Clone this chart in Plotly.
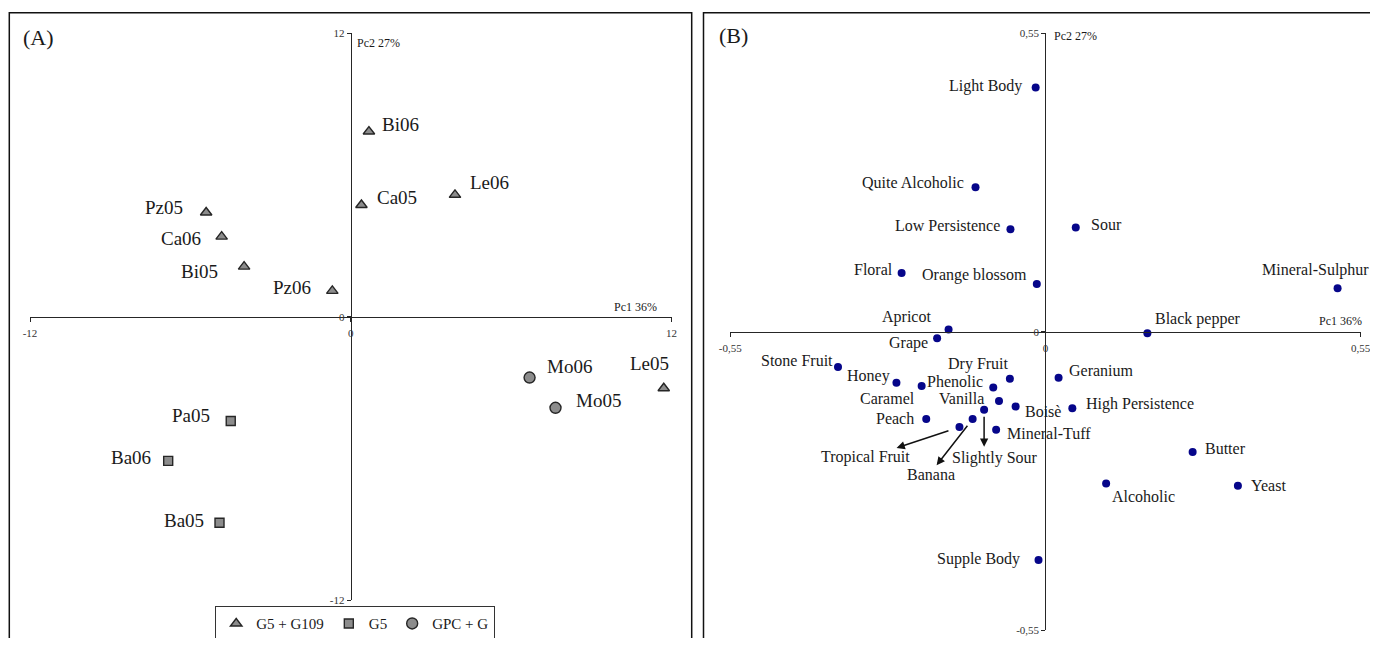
import plotly.graph_objects as go

# ---------------- Data: panel (A) scores ----------------
g1_names = ['Bi06', 'Ca05', 'Le06', 'Pz05', 'Ca06', 'Bi05', 'Pz06', 'Le05']
g1_pc1 = [0.68, 0.40, 3.90, -5.41, -4.83, -3.99, -0.69, 11.71]
g1_pc2 = [7.84, 4.73, 5.16, 4.41, 3.39, 2.12, 1.09, -3.03]

g2_names = ['Pa05', 'Ba06', 'Ba05']
g2_pc1 = [-4.49, -6.83, -4.91]
g2_pc2 = [-4.42, -6.11, -8.73]

g3_names = ['Mo06', 'Mo05']
g3_pc1 = [6.69, 7.66]
g3_pc2 = [-2.58, -3.86]

group_labels = ['G5 + G109', 'G5', 'GPC + G']

# ---------------- Data: panel (B) loadings ----------------
B_names = ['Light Body', 'Quite Alcoholic', 'Low Persistence', 'Sour', 'Floral',
           'Orange blossom', 'Mineral-Sulphur', 'Apricot', 'Black pepper', 'Grape',
           'Stone Fruit', 'Honey', 'Caramel', 'Phenolic', 'Dry Fruit', 'Vanilla',
           'Boisè', 'Geranium', 'High Persistence', 'Peach', 'Slightly Sour',
           'Banana', 'Tropical Fruit', 'Mineral-Tuff', 'Butter', 'Alcoholic',
           'Yeast', 'Supple Body']
B_pc1 = [-0.017, -0.122, -0.061, 0.053, -0.251, -0.015, 0.510, -0.169, 0.178, -0.189,
         -0.362, -0.260, -0.216, -0.091, -0.062, -0.081, -0.052, 0.023, 0.047, -0.208,
         -0.107, -0.127, -0.150, -0.086, 0.257, 0.106, 0.336, -0.012]
B_pc2 = [0.450, 0.266, 0.189, 0.192, 0.108, 0.088, 0.080, 0.004, -0.003, -0.012,
         -0.065, -0.094, -0.100, -0.103, -0.087, -0.128, -0.138, -0.085, -0.141, -0.161,
         -0.144, -0.161, -0.176, -0.181, -0.222, -0.280, -0.284, -0.421]

A_ticks = [-12, 0, 12]
A_ticktext = ['-12', '0', '12']
B_ticks = [-0.55, 0, 0.55]
B_ticktext = ['-0,55', '0', '0,55']

# ---------------- Styles (label placement in pixels) ----------------
A_label_style = {
    'Bi06': ('left', 11, 6.7), 'Ca05': ('left', 14, 7), 'Le06': ('left', 13.5, 12),
    'Pz05': ('right', -21, 5), 'Ca06': ('right', -19, -1.6), 'Bi05': ('right', -24, -5),
    'Pz06': ('right', -19, 3.7), 'Le05': ('right', 7.6, 25), 'Mo06': ('left', 15.6, 11),
    'Mo05': ('left', 18, 7), 'Pa05': ('right', -18.8, 5.3), 'Ba06': ('right', -15, 3.3),
    'Ba05': ('right', -13.4, 2),
}
B_label_style = {
    'Light Body': ('right', -11.6, 1.7), 'Quite Alcoholic': ('right', -9.9, 5),
    'Low Persistence': ('right', -8.6, 3.3), 'Sour': ('left', 13, 2.7),
    'Floral': ('right', -6.5, 4), 'Orange blossom': ('right', -7.4, 9),
    'Mineral-Sulphur': ('right', 33, 18.3), 'Apricot': ('right', -16, 12.6),
    'Black pepper': ('left', 5.6, 14), 'Grape': ('right', -7.4, -5),
    'Stone Fruit': ('right', -3, 6.7), 'Honey': ('right', -4.3, 6.7),
    'Caramel': ('right', -4.8, -12.6), 'Phenolic': ('right', -8.3, 6.3),
    'Dry Fruit': ('right', 1.3, 14.7), 'Vanilla': ('right', -12.6, 2.7),
    'Boisè': ('left', 7.4, -5), 'Geranium': ('left', 8.7, 7.3),
    'High Persistence': ('left', 11.7, 3.7), 'Peach': ('right', -10.3, 0.7),
    'Slightly Sour': ('center', 10.7, -48.6), 'Banana': ('center', -41.8, -55.3),
    'Tropical Fruit': ('center', -94.2, -30.3), 'Mineral-Tuff': ('left', 8.6, -3.6),
    'Butter': ('left', 10.8, 3.3), 'Alcoholic': ('left', 4.3, -13),
    'Yeast': ('left', 11.6, 0.7), 'Supple Body': ('right', -16.4, 0.7),
}
# arrows from a point to its label: (ax, ay, standoff) in pixels
B_arrows = {
    'Slightly Sour': (0, 38.6, 7),
    'Banana': (-37.2, 47.7, 8.5),
    'Tropical Fruit': (-64.4, 21.3, 11.6),
}

# The page body adds an 8px margin; the figure is sized so the page fits the window.
PAGE_W, PAGE_H, BODY_M = 1378, 646, 8
W, H = PAGE_W - BODY_M, PAGE_H - 2 * BODY_M
FONT = 'Liberation Serif, Times New Roman, serif'
TXT = '#1a1a1a'
AXC = '#262626'
GREY = '#8c8c8c'
NAVY = '#06068a'


def px(x):
    """page pixel x -> paper fraction"""
    return (x - BODY_M) / W


def py(y):
    """page pixel y (from top) -> paper fraction"""
    return 1 - (y - BODY_M) / H


fig = go.Figure()

marker_line = dict(color='#262626', width=1.4)
fig.add_trace(go.Scatter(x=g1_pc1, y=g1_pc2, mode='markers', name=group_labels[0],
                         marker=dict(symbol='triangle-up', size=10, color=GREY, line=marker_line),
                         xaxis='x', yaxis='y'))
fig.add_trace(go.Scatter(x=g2_pc1, y=g2_pc2, mode='markers', name=group_labels[1],
                         marker=dict(symbol='square', size=9, color=GREY, line=marker_line),
                         xaxis='x', yaxis='y'))
fig.add_trace(go.Scatter(x=g3_pc1, y=g3_pc2, mode='markers', name=group_labels[2],
                         marker=dict(symbol='circle', size=11, color=GREY, line=marker_line),
                         xaxis='x', yaxis='y'))
fig.add_trace(go.Scatter(x=B_pc1, y=B_pc2, mode='markers', showlegend=False,
                         marker=dict(symbol='circle', size=8, color=NAVY),
                         xaxis='x2', yaxis='y2'))

annotations = []
for names, xs, ys in [(g1_names, g1_pc1, g1_pc2), (g2_names, g2_pc1, g2_pc2),
                      (g3_names, g3_pc1, g3_pc2)]:
    for n, xv, yv in zip(names, xs, ys):
        anc, dx, dy = A_label_style[n]
        annotations.append(dict(x=xv, y=yv, xref='x', yref='y', text=n, showarrow=False,
                                xanchor=anc, yanchor='middle', xshift=dx, yshift=dy,
                                font=dict(family=FONT, size=19, color=TXT)))

for n, xv, yv in zip(B_names, B_pc1, B_pc2):
    anc, dx, dy = B_label_style[n]
    annotations.append(dict(x=xv, y=yv, xref='x2', yref='y2', text=n, showarrow=False,
                            xanchor=anc, yanchor='middle', xshift=dx, yshift=dy,
                            font=dict(family=FONT, size=16, color=TXT)))
    if n in B_arrows:
        ax, ay, so = B_arrows[n]
        annotations.append(dict(x=xv, y=yv, xref='x2', yref='y2', text='', showarrow=True,
                                ax=ax, ay=ay, arrowside='start', startarrowhead=2,
                                startarrowsize=1.1, arrowwidth=1.5, arrowcolor='#111111',
                                standoff=so))

# panel letters and axis titles
annotations += [
    dict(x=px(21), y=py(37), xref='paper', yref='paper', text='(A)', showarrow=False,
         xanchor='left', yanchor='middle', font=dict(family=FONT, size=22, color=TXT)),
    dict(x=px(717), y=py(36), xref='paper', yref='paper', text='(B)', showarrow=False,
         xanchor='left', yanchor='middle', font=dict(family=FONT, size=22, color=TXT)),
    dict(x=px(355), y=py(42.7), xref='paper', yref='paper', text='Pc2 27%', showarrow=False,
         xanchor='left', yanchor='middle', font=dict(family=FONT, size=12, color=TXT)),
    dict(x=px(659), y=py(306.7), xref='paper', yref='paper', text='Pc1 36%', showarrow=False,
         xanchor='right', yanchor='middle', font=dict(family=FONT, size=12, color=TXT)),
    dict(x=px(1052), y=py(35.7), xref='paper', yref='paper', text='Pc2 27%', showarrow=False,
         xanchor='left', yanchor='middle', font=dict(family=FONT, size=12, color=TXT)),
    dict(x=px(1364), y=py(320.7), xref='paper', yref='paper', text='Pc1 36%', showarrow=False,
         xanchor='right', yanchor='middle', font=dict(family=FONT, size=12, color=TXT)),
]

# panel frames
shapes = [
    dict(type='rect', xref='paper', yref='paper', x0=px(9.3), x1=px(691.7), y0=-0.1, y1=py(12.7),
         line=dict(color='#111111', width=1.5), fillcolor='rgba(0,0,0,0)', layer='below'),
    dict(type='rect', xref='paper', yref='paper', x0=px(703.5), x1=1.05, y0=-0.1, y1=py(12.7),
         line=dict(color='#111111', width=1.5), fillcolor='rgba(0,0,0,0)', layer='below'),
]

tickfont = dict(family=FONT, size=11, color='#333333')
axis_common = dict(showgrid=False, zeroline=False, showline=True, linecolor=AXC, linewidth=1.3,
                   ticks='outside', ticklen=4, tickcolor=AXC, tickwidth=1.2,
                   tickfont=tickfont, anchor='free', fixedrange=True, automargin=False)

A_xdom = [px(30), px(671.5)]
A_ydom = [py(600), py(33.3)]
B_xdom = [px(730.3), px(1360.5)]
B_ydom = [py(630), py(33.3)]

fig.update_layout(
    width=W, height=H, autosize=False,
    margin=dict(l=0, r=0, t=0, b=0, pad=0, autoexpand=False),
    paper_bgcolor='white', plot_bgcolor='rgba(0,0,0,0)',
    font=dict(family=FONT, color=TXT),
    xaxis=dict(domain=A_xdom, range=[-12, 12], tickvals=A_ticks, ticktext=A_ticktext,
               position=(A_ydom[0] + A_ydom[1]) / 2, ticklabelstandoff=2, **axis_common),
    yaxis=dict(domain=A_ydom, range=[-12, 12], tickvals=A_ticks, ticktext=A_ticktext,
               position=(A_xdom[0] + A_xdom[1]) / 2, **axis_common),
    xaxis2=dict(domain=B_xdom, range=[-0.55, 0.55], tickvals=B_ticks, ticktext=B_ticktext,
                position=(B_ydom[0] + B_ydom[1]) / 2, ticklabelstandoff=2, **axis_common),
    yaxis2=dict(domain=B_ydom, range=[-0.55, 0.55], tickvals=B_ticks, ticktext=B_ticktext,
                position=(B_xdom[0] + B_xdom[1]) / 2, **axis_common),
    legend=dict(orientation='h', x=px(355), xanchor='center', y=py(606), yanchor='top',
                bordercolor='#333333', borderwidth=1.2, bgcolor='white',
                font=dict(family=FONT, size=15, color=TXT), itemwidth=30,
                tracegroupgap=0),
    annotations=annotations,
    shapes=shapes,
    showlegend=True,
)

fig.write_html('out.html')
